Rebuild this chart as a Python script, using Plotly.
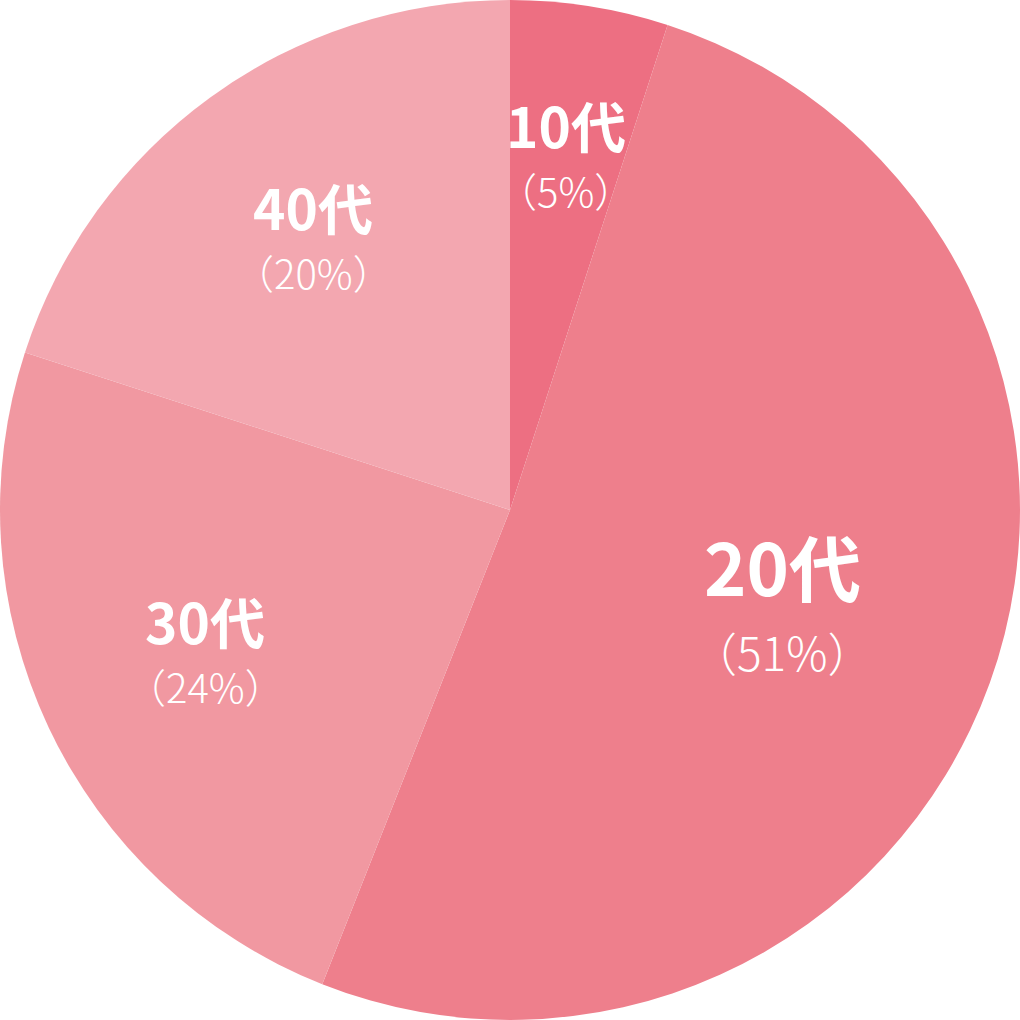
# Age breakdown pie chart, drawn with Plotly
import math
import plotly.graph_objects as go

# data
ages = ["10代", "20代", "30代", "40代"]
shares = [5, 51, 24, 20]
pct_labels = ["（5%）", "（51%）", "（24%）", "（20%）"]

# look
colors = ["#ED6F82", "#EE7F8C", "#F198A1", "#F3A7B0"]
label_radius = [0.70, 0.567, 0.66, 0.657]   # how far out the text sits, as a share of the radius
label_size = [55, 72, 55, 55]
pct_size = [40, 46, 40, 40]
FONT = "Noto Sans CJK JP"

pie = go.Pie(
    labels=ages, values=shares, sort=False, direction="clockwise", rotation=0,
    marker=dict(colors=colors, line=dict(width=0)),
    textinfo="none", hoverinfo="label+percent", showlegend=False,
    domain=dict(x=[0, 1], y=[0, 1]),
)

# label positions follow the middle of each slice
annotations = []
total = sum(shares)
start = 0.0
for i, v in enumerate(shares):
    mid = (start + v / 2) / total * 2 * math.pi   # clockwise from 12 o'clock
    start += v
    x = 0.5 + 0.5 * label_radius[i] * math.sin(mid)
    y = 0.5 + 0.5 * label_radius[i] * math.cos(mid)
    gap = label_size[i] * 0.6
    annotations.append(dict(x=x, y=y, xref="paper", yref="paper", text="<b>" + ages[i] + "</b>",
                            xanchor="center", yanchor="middle", showarrow=False, yshift=gap,
                            font=dict(family=FONT, size=label_size[i], color="white")))
    annotations.append(dict(x=x, y=y, xref="paper", yref="paper", text=pct_labels[i],
                            xanchor="center", yanchor="middle", showarrow=False, yshift=-gap,
                            font=dict(family=FONT, size=pct_size[i], color="white", weight=300)))

fig = go.Figure(data=[pie])
fig.update_layout(
    width=1020, height=1020,
    margin=dict(l=0, r=0, t=0, b=0),
    paper_bgcolor="white", plot_bgcolor="white",
    annotations=annotations,
)
# drop the page margin so the 1020px figure fills the window exactly
fig.write_html("out.html", config={"displayModeBar": False},
               post_script="document.body.style.margin='0';document.body.style.overflow='hidden';")
